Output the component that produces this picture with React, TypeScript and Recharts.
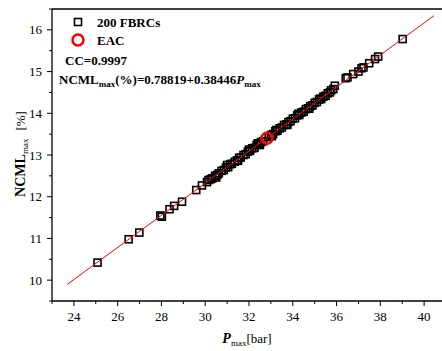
import React from "react";
import { ScatterChart, Scatter, XAxis, YAxis, ReferenceLine, Customized } from "recharts";

const P_FBRC = [
  25.08, 26.5, 26.99, 27.95, 28.02, 28.37, 28.58, 28.94, 29.59, 29.85, 30.08,
  30.15, 30.25, 30.32, 30.45, 30.5, 30.55, 30.62, 30.75, 30.85, 30.95, 31.0, 31.05,
  31.15, 31.22, 31.35, 31.45, 31.5, 31.55, 31.62, 31.75, 31.85, 31.95, 32.0, 32.05,
  32.15, 32.25, 32.35, 32.4, 32.45, 32.5, 32.55, 32.65, 32.9, 33.0, 33.05, 33.1,
  33.2, 33.25, 33.3, 33.4, 33.5, 33.6, 33.7, 33.75, 33.8, 33.9, 34.0, 34.1, 34.2,
  34.25, 34.3, 34.4, 34.5, 34.6, 34.7, 34.75, 34.8, 34.9, 35.0, 35.1, 35.2, 35.25,
  35.3, 35.4, 35.5, 35.6, 35.7, 35.75, 35.85, 35.92, 36.42, 36.5, 36.76, 37.0,
  37.14, 37.23, 37.49, 37.76, 37.9, 39.02,
];
const NCML_FBRC = [
  10.42, 10.98, 11.14, 11.55, 11.52, 11.7, 11.78, 11.88, 12.16, 12.27, 12.35,
  12.4, 12.42, 12.44, 12.5, 12.46, 12.52, 12.56, 12.62, 12.64, 12.7, 12.76, 12.71,
  12.78, 12.79, 12.84, 12.87, 12.86, 12.93, 12.94, 13.0, 13.02, 13.08, 13.13, 13.1,
  13.16, 13.17, 13.24, 13.28, 13.25, 13.24, 13.31, 13.33, 13.43, 13.48, 13.45, 13.5,
  13.57, 13.6, 13.58, 13.64, 13.66, 13.72, 13.73, 13.72, 13.79, 13.81, 13.87, 13.88, 13.95,
  13.99, 13.96, 14.02, 14.04, 14.1, 14.12, 14.11, 14.17, 14.19, 14.25, 14.27, 14.33, 14.35,
  14.34, 14.4, 14.42, 14.48, 14.5, 14.55, 14.58, 14.66, 14.84, 14.86, 14.94, 15.0,
  15.08, 15.1, 15.2, 15.3, 15.36, 15.78,
];
const EAC_P = [32.82];
const EAC_NCML = [13.4];
const FIT_P = [23.7, 40.45];
const FIT_NCML = [9.9, 16.34];
const X_TICKS = [23, 24, 25, 26, 27, 28, 29, 30, 31, 32, 33, 34, 35, 36, 37, 38, 39, 40, 41];
const Y_TICKS = [9.5, 10, 10.5, 11, 11.5, 12, 12.5, 13, 13.5, 14, 14.5, 15, 15.5, 16, 16.5];

const fbrcData = P_FBRC.map((x, i) => ({ x, y: NCML_FBRC[i] }));
const eacData = EAC_P.map((x, i) => ({ x, y: EAC_NCML[i] }));
const fitData = FIT_P.map((x, i) => ({ x, y: FIT_NCML[i] }));

const FONT = "'Liberation Serif', 'Times New Roman', serif";

const SquareShape = (props: any) => {
  const { cx, cy } = props;
  return <rect x={cx - 3.5} y={cy - 3.5} width={7} height={7} fill="none" stroke="#000" strokeWidth={1.6} />;
};
const CircleShape = (props: any) => {
  const { cx, cy } = props;
  return <circle cx={cx} cy={cy} r={5.5} fill="none" stroke="#ff0000" strokeWidth={2.5} />;
};
const NoShape = () => null;

const XTick = (props: any) => {
  const { x, y, payload } = props;
  const v = payload.value;
  const major = v % 2 === 0;
  return (
    <g>
      <line x1={x} x2={x} y1={y} y2={y + (major ? 5 : 3)} stroke="#000" strokeWidth={1} />
      {major && (
        <text x={x} y={y + 20} textAnchor="middle" fontSize={13} fontFamily={FONT} fill="#000">
          {v}
        </text>
      )}
    </g>
  );
};
const YTick = (props: any) => {
  const { x, y, payload } = props;
  const v = payload.value;
  const major = Number.isInteger(v);
  return (
    <g>
      <line x1={x} x2={x - (major ? 5 : 3)} y1={y} y2={y} stroke="#000" strokeWidth={1} />
      {major && (
        <text x={x - 10} y={y + 4.5} textAnchor="end" fontSize={13} fontFamily={FONT} fill="#000">
          {v}
        </text>
      )}
    </g>
  );
};

const Annotations = () => (
  <g fontFamily={FONT} fill="#000">
    <rect x={74.5} y={18.5} width={7} height={7} fill="none" stroke="#000" strokeWidth={1.6} />
    <text x={97} y={26.5} fontSize={13} fontWeight="bold">200 FBRCs</text>
    <circle cx={78} cy={40} r={5.5} fill="none" stroke="#ff0000" strokeWidth={2.5} />
    <text x={97} y={44.5} fontSize={13} fontWeight="bold">EAC</text>
    <text x={65} y={64.5} fontSize={13} fontWeight="bold">CC=0.9997</text>
    <text x={59} y={83.5} fontSize={13} fontWeight="bold">
      NCML
      <tspan fontSize={9} dy={3}>max</tspan>
      <tspan dy={-3}>(%)=0.78819+0.38446</tspan>
      <tspan fontStyle="italic">P</tspan>
      <tspan fontSize={9} dy={3}>max</tspan>
    </text>
    <text x={247} y={343} textAnchor="middle" fontSize={14}>
      <tspan fontWeight="bold" fontStyle="italic">P</tspan>
      <tspan fontSize={9} dy={3}>max</tspan>
      <tspan fontSize={13} dy={-3}>[bar]</tspan>
    </text>
    <text x={25} y={154} textAnchor="middle" fontSize={14} transform="rotate(-90, 25, 154)">
      <tspan fontWeight="bold">NCML</tspan>
      <tspan fontSize={9} dy={3}>max</tspan>
      <tspan fontSize={13} dy={-3} dx={8}>[%]</tspan>
    </text>
  </g>
);

export default function App() {
  return (
    <div style={{ position: "absolute", left: 0, top: 0, width: 442, height: 351, overflow: "hidden", background: "#fff" }}>
      <ScatterChart width={456} height={351} margin={{ top: 9, right: 10, bottom: 0, left: 0 }}>
        <XAxis
          type="number"
          dataKey="x"
          domain={[23, 41]}
          ticks={X_TICKS}
          interval={0}
          height={50}
          tickSize={0}
          tickMargin={0}
          tickLine={false}
          tick={<XTick />}
          axisLine={{ stroke: "#000", strokeWidth: 1.3 }}
          allowDataOverflow
        />
        <YAxis
          type="number"
          dataKey="y"
          domain={[9.5, 16.5]}
          ticks={Y_TICKS}
          interval={0}
          width={52}
          tickSize={0}
          tickMargin={0}
          tickLine={false}
          tick={<YTick />}
          axisLine={{ stroke: "#000", strokeWidth: 1.3 }}
          allowDataOverflow
        />
        <ReferenceLine y={16.5} stroke="#000" strokeWidth={1.3} />
        <ReferenceLine x={41} stroke="#000" strokeWidth={1.3} />
        <Scatter data={fbrcData} shape={<SquareShape />} isAnimationActive={false} />
        <Scatter data={fitData} line={{ stroke: "#ff0000", strokeWidth: 1 }} shape={<NoShape />} isAnimationActive={false} />
        <Scatter data={eacData} shape={<CircleShape />} isAnimationActive={false} />
        <Customized component={<Annotations />} />
      </ScatterChart>
    </div>
  );
}
